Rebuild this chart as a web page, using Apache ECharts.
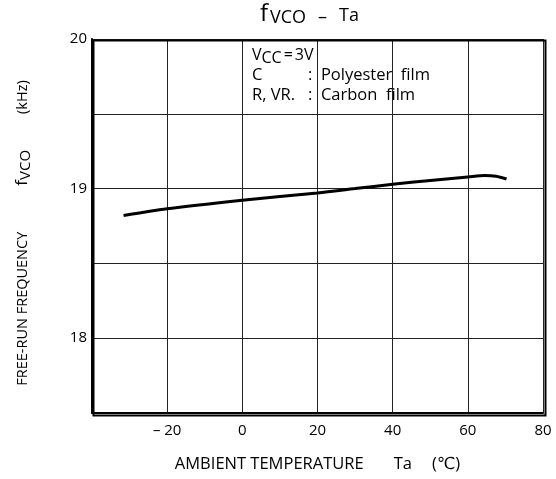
<!DOCTYPE html>
<html>
<head>
<meta charset="utf-8">
<script src="https://cdn.jsdelivr.net/npm/echarts@6/dist/echarts.min.js"></script>
<style>
  html, body { margin: 0; padding: 0; background: #fff; }
  #chart { width: 556px; height: 479px; }
</style>
</head>
<body>
<div id="chart"></div>
<script>
// Ambient temperature (°C) and free-run VCO frequency (kHz)
const temperature = [-31.6, -20, 0, 20, 30, 40, 50, 60, 64.5, 67.5, 70.3];
const fvco = [18.82, 18.865, 18.922, 18.971, 19.0, 19.029, 19.054, 19.078, 19.088, 19.083, 19.064];

const xTicks = { min: -40, max: 80, step: 20 };
const yTicks = { min: 17.5, max: 20, step: 0.5 };
const yLabelled = [18, 19, 20];

const FONT = '"Open Sans", "DejaVu Sans", sans-serif';

function txt(left, top, text, size) {
  return { type: 'text', left, top, style: { text, fontFamily: FONT, fontSize: size, fill: '#000' } };
}

const chart = echarts.init(document.getElementById('chart'), null, { renderer: 'canvas' });

chart.setOption({
  backgroundColor: '#ffffff',
  animation: false,
  textStyle: { fontFamily: FONT, color: '#000' },
  grid: { left: 92, right: 13, top: 39, bottom: 66, containLabel: false },
  xAxis: {
    type: 'value',
    min: xTicks.min,
    max: xTicks.max,
    interval: xTicks.step,
    name: '{a|AMBIENT TEMPERATURE}{b|Ta}{c|(℃)}',
    nameLocation: 'middle',
    nameGap: 43,
    nameTextStyle: {
      rich: {
        a: { fontFamily: FONT, fontSize: 16.5, color: '#000', padding: [0, 30, 0, 0] },
        b: { fontFamily: FONT, fontSize: 16.5, color: '#000', padding: [0, 20, 0, 0] },
        c: { fontFamily: FONT, fontSize: 16.5, color: '#000' }
      }
    },
    axisLine: { show: true, onZero: false, lineStyle: { color: '#000', width: 2 } },
    axisTick: { show: false },
    splitLine: { show: true, lineStyle: { color: '#222', width: 1 } },
    axisLabel: {
      fontFamily: FONT, fontSize: 15, color: '#000', margin: 10,
      formatter: v => v === xTicks.min ? '' : (v < 0 ? '– ' + Math.abs(v) : String(v))
    }
  },
  yAxis: {
    type: 'value',
    min: yTicks.min,
    max: yTicks.max,
    interval: yTicks.step,
    name: '{n|FREE-RUN FREQUENCY}{f|f}{s|VCO}{k|(kHz)}',
    nameLocation: 'middle',
    nameGap: 61,
    nameRotate: 90,
    nameTextStyle: {
      rich: {
        n: { fontFamily: FONT, fontSize: 14.5, color: '#000', padding: [0, 46, 0, 0] },
        f: { fontFamily: FONT, fontSize: 17, color: '#000' },
        s: { fontFamily: FONT, fontSize: 15, color: '#000', padding: [0, 36, -7, 0] },
        k: { fontFamily: FONT, fontSize: 14.5, color: '#000', padding: [0, 14, 0, 0] }
      }
    },
    axisLine: { show: true, onZero: false, lineStyle: { color: '#000', width: 2 } },
    axisTick: { show: false },
    splitLine: { show: true, lineStyle: { color: '#222', width: 1 } },
    axisLabel: {
      fontFamily: FONT, fontSize: 15, color: '#000', margin: 5,
      formatter: v => yLabelled.includes(v) ? String(v) : ''
    }
  },
  graphic: [
    // plot frame
    { type: 'rect', left: 91, top: 38, shape: { width: 452, height: 375 }, style: { fill: 'none', stroke: '#000', lineWidth: 2 }, silent: true, z: 10 },
    // heading: f_VCO – Ta
    txt(260, 2, 'f', 24),
    txt(270, 9, 'VCO', 18),
    txt(318, 9, '–', 18),
    txt(339, 7, 'Ta', 18),
    // test conditions
    {
      type: 'text', left: 252, top: 47,
      style: { text: '{v|V}{s|CC}{e|=}{v|3V}', rich: {
        v: { fontFamily: FONT, fontSize: 16, fill: '#000' },
        e: { fontFamily: FONT, fontSize: 16, fill: '#000', padding: [0, 2, 0, 1] },
        s: { fontFamily: FONT, fontSize: 16, fill: '#000', padding: [0, 1, -7, 0] }
      } }
    },
    txt(252, 67, 'C', 16.5),
    txt(308, 67, ':  Polyester  film', 16.5),
    txt(252, 87, 'R, VR.', 16.5),
    txt(308, 87, ':  Carbon  film', 16.5)
  ],
  series: [{
    type: 'line',
    data: temperature.map((t, i) => [t, fvco[i]]),
    showSymbol: false,
    smooth: 0.3,
    lineStyle: { color: '#000', width: 3 },
    z: 5
  }]
});
</script>
</body>
</html>
